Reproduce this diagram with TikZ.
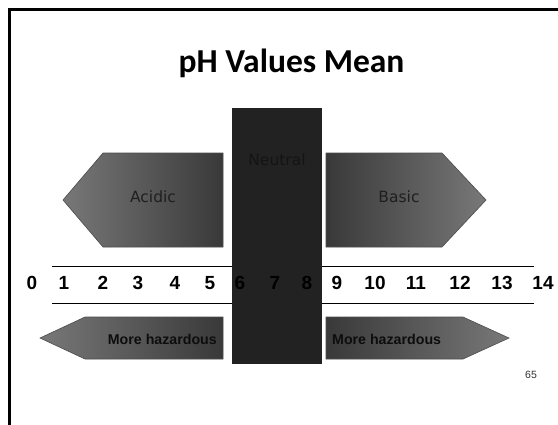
\documentclass[tikz,border=0pt]{standalone}
\usepackage{fontspec}
\setmainfont{Liberation Sans}
\newfontfamily\titlefont{Carlito}
\newfontfamily\zonefont{DejaVu Sans}
\definecolor{neutralgray}{HTML}{222222}
\definecolor{shadelight}{HTML}{787878}
\definecolor{shadedark}{HTML}{393939}
\begin{document}
\begin{tikzpicture}[x=1bp,y=-1bp,
  numlabel/.style={font=\bfseries\fontsize{19bp}{21bp}\selectfont, text=black, inner sep=0, anchor=base},
  zonelabel/.style={font=\zonefont\fontsize{15.5bp}{17bp}\selectfont, text=black!88, inner sep=0, anchor=base},
  hazlabel/.style={font=\bfseries\fontsize{14.2bp}{16bp}\selectfont, text=black!95, inner sep=0},
  arrowshape/.style={draw=black!70, line width=0.6bp},
  scaleline/.style={line width=1bp, draw=black}]
\useasboundingbox (0,0) rectangle (558,424);
\fill[white] (0,0) rectangle (558,424);
% slide frame
\draw[line width=2.5bp] (9.5,440) -- (9.5,9.5) -- (570,9.5);
% title
\node[font=\titlefont\bfseries\fontsize{33.5bp}{38bp}\selectfont, inner sep=0, anchor=base] (title) at (291.5,72) {pH Values Mean};
% scale rules
\draw[scaleline] (52,266) -- (534,266);
\draw[scaleline] (52,303) -- (534,303);
% neutral band
\fill[neutralgray] (232,108) rectangle (322,364);
\node[zonelabel, text=black!92] (neutral) at (277,165) {Neutral};
% acidic and basic arrows
\path[arrowshape, left color=shadelight, right color=shadedark]
  (63,200) -- (103,153) -- (223,153) -- (223,247) -- (103,247) -- cycle;
\node[zonelabel] (acidic) at (153,202) {Acidic};
\path[arrowshape, left color=shadedark, right color=shadelight]
  (326,153) -- (442,153) -- (486,200) -- (442,247) -- (326,247) -- cycle;
\node[zonelabel] (basic) at (399,202) {Basic};
% pH numbers
\foreach \v/\x in {0/32,1/64,2/103,3/138,4/175,5/210,6/240,7/275,8/307,9/337,10/375,11/416,12/460,13/502,14/543}
  \node[numlabel] (n\v) at (\x,289) {\v};
% hazard arrows
\path[arrowshape, left color=shadelight, right color=shadedark]
  (40,338) -- (85,317) -- (223,317) -- (223,359) -- (85,359) -- cycle;
\node[hazlabel, anchor=base east] (hazleft) at (217,344) {More hazardous};
\path[arrowshape, left color=shadedark, right color=shadelight]
  (326,317) -- (463,317) -- (509,338) -- (463,359) -- (326,359) -- cycle;
\node[hazlabel, anchor=base west] (hazright) at (332,344) {More hazardous};
% page number
\node[font=\fontsize{10.5bp}{12bp}\selectfont, text=black!80, inner sep=0, anchor=base] (page) at (531,378) {65};
\end{tikzpicture}
\end{document}
